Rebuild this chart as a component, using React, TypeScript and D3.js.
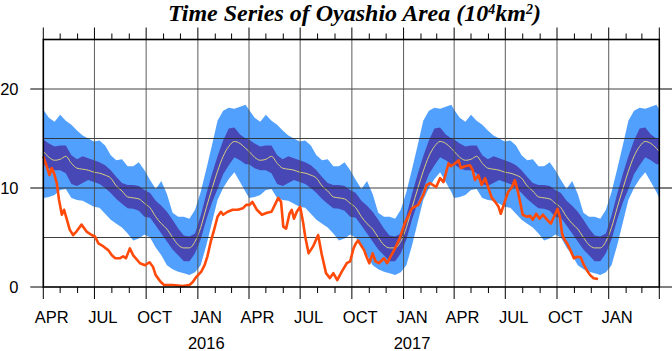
import React from "react";
import * as d3 from "d3";

// Climatology (days since Apr 1 of each year) – repeats every year
const climDay = [0,10,20,30,40,50,60,70,80,90,100,110,120,130,140,150,160,170,180,190,200,210,220,230,240,250,260,270,280,290,300,310,320,330,340,350,360];
const climMean = [13.7,13.1,12.8,12.9,13.2,12.5,12.0,11.9,11.8,11.6,11.5,11.3,11.0,10.2,9.7,9.1,9.0,8.9,8.45,8.0,7.1,6.4,5.85,5.0,4.25,3.95,3.95,4.6,6.0,8.0,9.9,11.7,13.2,14.2,14.7,14.5,14.0];
const innerHi = [14.9,14.5,14.2,14.3,14.3,13.3,12.9,13.2,13.0,12.8,12.6,12.3,11.8,11.1,10.5,10.3,10.3,10.2,9.8,9.5,8.7,8.2,7.6,6.8,5.9,5.2,5.1,5.4,7.2,9.4,11.4,13.2,14.8,16.0,16.1,15.4,15.0];
const innerLo = [12.4,12.0,11.8,11.8,11.5,10.4,10.2,10.5,10.8,10.6,10.4,10.0,9.5,8.9,8.4,7.95,7.9,7.7,7.1,7.0,6.2,5.4,4.6,3.8,3.2,2.6,2.6,3.4,4.8,6.8,8.5,9.9,11.4,12.3,13.1,12.8,12.4];
const outerHi = [17.9,17.1,16.7,17.4,16.8,16.4,15.8,15.3,15.0,14.7,14.8,14.3,13.3,12.8,12.9,12.2,12.2,12.6,11.8,10.8,9.9,10.7,9.4,7.5,7.1,7.1,6.9,7.8,9.6,11.9,14.3,16.8,17.8,18.1,18.0,18.2,18.4];
const outerLo = [9.0,9.1,9.3,9.8,9.9,9.0,8.8,8.7,8.4,8.1,8.0,7.4,6.8,6.4,6.0,5.4,4.7,4.9,5.3,5.0,4.0,3.2,2.2,1.8,1.55,1.4,1.2,1.5,2.2,4.2,6.5,8.8,10.0,10.9,11.6,10.6,9.6];
const climYears = [2015, 2016, 2017];

// Observed series (days since 2015-04-01)
const obsDay = [0,6,11,15,19,24,28,33,37,42,47,53,59,68,77,86,92,98,107,116,122,128,136,142,147,154,160,172,181,189,195,200,209,215,230,248,260,266,272,281,287,292,298,304,310,316,320,328,337,346,355,361,367,372,380,389,398,406,412,418,423,427,432,438,442,446,451,457,462,466,472,480,489,495,503,510,516,523,531,540,546,552,556,560,571,574,580,586,591,597,606,612,618,624,634,643,656,667,676,682,688,699,706,712,721,725,733,739,743,750,759,764,768,774,780,786,789,798,804,810,814,820,827,834,839,845,853,860,866,871,877,883,889,896,903,911,915,919,923,926,932,938,944,950,956,962,967,973,979,987];
const obsVal = [13.2,12.2,11.3,12.0,11.5,10.5,8.8,7.3,7.8,6.8,5.8,5.25,5.6,6.3,5.6,5.25,5.1,4.4,4.1,3.7,3.2,2.9,2.9,3.1,2.9,3.9,3.2,2.4,2.2,2.5,2.05,1.2,0.5,0.2,0.2,0.1,0.2,0.5,1.0,1.55,2.2,3.1,4.6,5.8,7.1,7.6,7.3,7.6,7.8,7.8,7.95,8.3,8.3,8.6,7.8,7.3,7.5,7.6,8.3,9.0,8.6,6.1,5.9,7.4,7.8,6.9,7.6,8.1,6.6,5.1,3.4,4.1,5.25,3.4,1.4,0.9,1.4,0.7,1.55,2.4,2.6,3.9,4.4,4.7,3.7,3.2,2.4,3.4,2.6,2.4,2.9,2.4,3.1,3.7,4.9,6.4,7.95,8.3,9.3,10.3,10.5,10.1,11.0,10.6,12.5,12.2,12.5,12.8,12.0,12.2,12.3,11.8,10.8,11.3,10.3,11.0,10.5,9.0,8.6,8.1,7.4,8.45,9.6,10.1,10.8,9.5,7.3,7.1,7.2,6.8,7.4,6.9,7.3,6.8,6.4,7.4,7.9,7.1,5.4,4.9,4.4,3.7,2.9,3.06,3.0,2.2,1.7,1.2,0.88,0.8];

const yTickVals = [0, 10, 20];
const yGridVals = [5, 10, 15, 20];
const yearLabels = [
  { year: "2016", at: Date.UTC(2016, 0, 1) },
  { year: "2017", at: Date.UTC(2017, 0, 1) },
];

const W = 672, H = 351;
const L = 43.3, R = 659.3, T = 39.5, B = 287;
const DAY = 864e5;

export default function App() {
  const t0 = new Date(Date.UTC(2015, 3, 1));
  const t1 = new Date(Date.UTC(2018, 3, 1));
  const x = d3.scaleUtc().domain([t0, t1]).range([L, R]);
  const y = d3.scaleLinear().domain([0, 25]).range([B, T]);

  type C = { t: Date; m: number; ih: number; il: number; oh: number; ol: number };
  const clim: C[] = [];
  climYears.forEach((yr) => {
    const s = Date.UTC(yr, 3, 1);
    climDay.forEach((d, i) => {
      clim.push({ t: new Date(s + d * DAY), m: climMean[i], ih: innerHi[i], il: innerLo[i], oh: outerHi[i], ol: outerLo[i] });
    });
  });
  clim.push({ t: t1, m: climMean[0], ih: innerHi[0], il: innerLo[0], oh: outerHi[0], ol: outerLo[0] });

  const outerArea = d3.area<C>().x((d) => x(d.t)).y0((d) => y(d.ol)).y1((d) => y(d.oh))(clim) || "";
  const innerArea = d3.area<C>().x((d) => x(d.t)).y0((d) => y(d.il)).y1((d) => y(d.ih))(clim) || "";
  const meanLine = d3.line<C>().x((d) => x(d.t)).y((d) => y(d.m)).curve(d3.curveMonotoneX)(clim) || "";

  const obs = obsDay.map((d, i) => ({ t: new Date(t0.getTime() + d * DAY), v: obsVal[i] }));
  const obsLine = d3.line<{ t: Date; v: number }>().x((d) => x(d.t)).y((d) => y(d.v))(obs) || "";

  const months = d3.utcMonth.range(t0, new Date(t1.getTime() + DAY));
  const majors = months.filter((m) => m.getUTCMonth() % 3 === 0);
  const minors = months.filter((m) => m.getUTCMonth() % 3 !== 0);
  const labels = majors.filter((m) => m.getTime() < t1.getTime());
  const fmt = d3.utcFormat("%b");

  const font = "'Liberation Sans', Arial, Helvetica, sans-serif";

  return (
    <svg width={W} height={H} style={{ position: "absolute", left: 0, top: 0 }}>
      <rect x={0} y={0} width={W} height={H} fill="#fff" />
      <path d={outerArea} fill="#52a0fd" />
      <path d={innerArea} fill="#4747b5" />
      <path d={meanLine} fill="none" stroke="#d8d07e" strokeWidth={1} />
      {yGridVals.map((v) => (
        <line key={"hg" + v} x1={L} x2={R} y1={y(v)} y2={y(v)} stroke="#2a2a2a" strokeWidth={0.9} />
      ))}
      {majors.filter((m) => m > t0 && m < t1).map((m) => (
        <line key={"vg" + m.getTime()} x1={x(m)} x2={x(m)} y1={T} y2={B} stroke="#4a4a4a" strokeWidth={0.9} />
      ))}
      <path d={obsLine} fill="none" stroke="#ff4a0a" strokeWidth={2.6} strokeLinejoin="round" />
      <rect x={L} y={T} width={R - L} height={B - T} fill="none" stroke="#000" strokeWidth={1.6} />
      {majors.map((m) => (
        <g key={"mj" + m.getTime()}>
          <line x1={x(m)} x2={x(m)} y1={B} y2={B + 12} stroke="#000" strokeWidth={1} />
          <line x1={x(m)} x2={x(m)} y1={T} y2={T - 12} stroke="#000" strokeWidth={1} />
        </g>
      ))}
      {minors.map((m) => (
        <g key={"mn" + m.getTime()}>
          <line x1={x(m)} x2={x(m)} y1={B} y2={B + 6} stroke="#000" strokeWidth={1} />
          <line x1={x(m)} x2={x(m)} y1={T} y2={T - 6} stroke="#000" strokeWidth={1} />
        </g>
      ))}
      {yTickVals.map((v) => (
        <g key={"yt" + v}>
          <line x1={L - 13} x2={L} y1={y(v)} y2={y(v)} stroke="#000" strokeWidth={1} />
          <line x1={R} x2={R + 13} y1={y(v)} y2={y(v)} stroke="#000" strokeWidth={1} />
          <text x={18.5} y={y(v) + 5.8} textAnchor="end" fontFamily={font} fontSize={16.5} fill="#000">{v}</text>
        </g>
      ))}
      {labels.map((m) => (
        <text key={"lb" + m.getTime()} x={x(new Date(m.getTime() + 15 * DAY))} y={323} textAnchor="middle" fontFamily={font} fontSize={16.5} fill="#000">
          {fmt(m).toUpperCase()}
        </text>
      ))}
      {yearLabels.map((yl) => (
        <text key={yl.year} x={x(new Date(yl.at + 15 * DAY))} y={349} textAnchor="middle" fontFamily={font} fontSize={16.5} fill="#000">
          {yl.year}
        </text>
      ))}
      <text x={168} y={21} fontFamily="'Liberation Serif', 'Times New Roman', serif" fontStyle="italic" fontWeight="bold" fontSize={24} fill="#000">
        Time Series of Oyashio Area (10<tspan dy={-7} fontSize={14}>4</tspan><tspan dy={7}>km</tspan><tspan dy={-7} fontSize={14}>2</tspan><tspan dy={7}>)</tspan>
      </text>
    </svg>
  );
}
